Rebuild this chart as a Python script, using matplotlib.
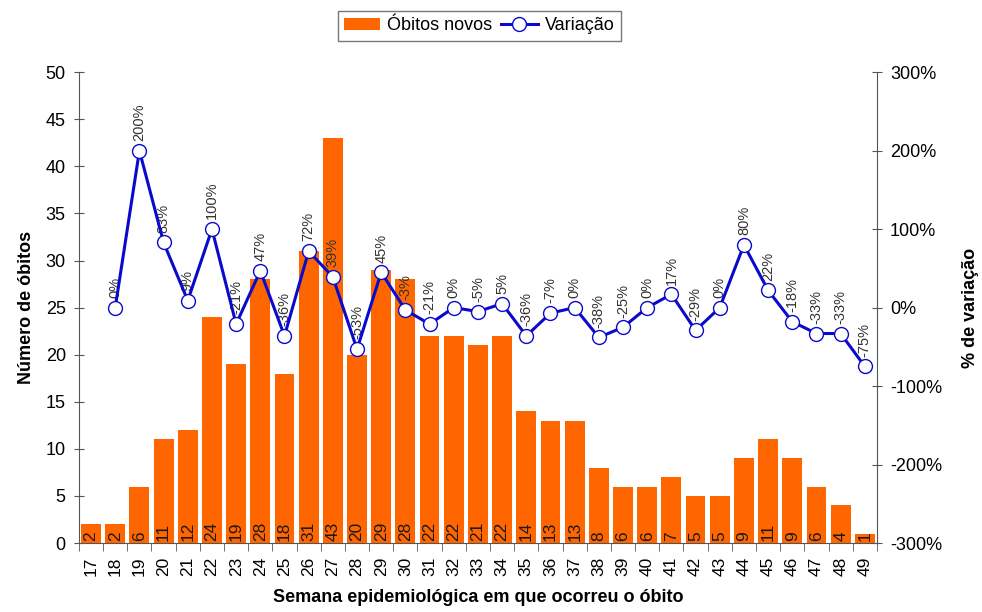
import numpy as np
import matplotlib
matplotlib.use("Agg")
import matplotlib.pyplot as plt
from matplotlib.ticker import FuncFormatter, FixedLocator

plt.rcParams['font.family'] = ['Liberation Sans', 'DejaVu Sans']

semanas = list(range(17, 50))
obitos = [2, 2, 6, 11, 12, 24, 19, 28, 18, 31, 43, 20, 29, 28, 22, 22, 21, 22,
          14, 13, 13, 8, 6, 6, 7, 5, 5, 9, 11, 9, 6, 4, 1]
# variacao starts at week 18
variacao = [0, 200, 83, 9, 100, -21, 47, -36, 72, 39, -53, 45, -3, -21, 0, -5, 5,
            -36, -7, 0, -38, -25, 0, 17, -29, 0, 80, 22, -18, -33, -33, -75]

laranja = '#FF6600'
azul = '#0A0ACC'

fig = plt.figure(figsize=(9.82, 6.12), dpi=100)
ax = fig.add_axes([0.0804, 0.1127, 0.8126, 0.7693])
x = np.arange(len(semanas))

barras = ax.bar(x, obitos, width=0.82, color=laranja, label='Óbitos novos', zorder=2)
for xi, v in zip(x, obitos):
    ax.text(xi, 0.25, str(v), rotation=90, ha='center', va='bottom', fontsize=12.5, color='#1a1a1a', zorder=3)

ax.set_xlim(-0.5, len(semanas) - 0.5)
ax.set_ylim(0, 50)
ax.set_yticks(range(0, 51, 5))
ax.set_xticks(x)
ax.set_xticklabels([str(s) for s in semanas], rotation=90, fontsize=12.5)
ax.xaxis.set_minor_locator(FixedLocator(np.arange(-0.5, len(semanas), 1)))
ax.tick_params(axis='x', which='major', length=0, pad=10)
ax.tick_params(axis='x', which='minor', length=6, direction='out', color='#555555')
ax.tick_params(axis='y', labelsize=13, length=7, direction='inout', color='#555555', pad=6)
ax.spines['top'].set_visible(False)
ax.spines['right'].set_visible(False)
ax.spines['left'].set_color('#555555')
ax.spines['bottom'].set_color('#555555')
ax.set_ylabel('Número de óbitos', fontsize=13, fontweight='bold', labelpad=8)
ax.set_xlabel('Semana epidemiológica em que ocorreu o óbito', fontsize=13, fontweight='bold', labelpad=9)

ax2 = ax.twinx()
ax2.set_ylim(-300, 300)
ax2.set_yticks(range(-300, 301, 100))
ax2.yaxis.set_major_formatter(FuncFormatter(lambda v, p: '%d%%' % v))
ax2.tick_params(axis='y', labelsize=13, length=7, direction='inout', color='#555555', pad=6)
for s in ['top', 'left', 'bottom']:
    ax2.spines[s].set_visible(False)
ax2.spines['right'].set_color('#555555')
ax2.set_ylabel('% de variação', fontsize=13, fontweight='bold', labelpad=14)

xv = x[1:]
linha, = ax2.plot(xv, variacao, color=azul, lw=2.2, marker='o', markersize=10,
                  markerfacecolor='white', markeredgecolor=azul, markeredgewidth=1,
                  label='Variação', zorder=4)
for xi, v in zip(xv, variacao):
    ax2.annotate('%d%%' % v, (xi, v), xytext=(0, 7), textcoords='offset points',
                 rotation=90, ha='center', va='bottom', fontsize=10.5, color='#333333')

fig.legend(handles=[barras, linha], labels=['Óbitos novos', 'Variação'],
           loc='center', bbox_to_anchor=(0.488, 0.958), ncol=2, fontsize=13,
           frameon=True, fancybox=False, edgecolor='#555555', handlelength=2,
           columnspacing=0.5, handletextpad=0.4, borderpad=0.35)

fig.savefig('out.png', dpi=100)
